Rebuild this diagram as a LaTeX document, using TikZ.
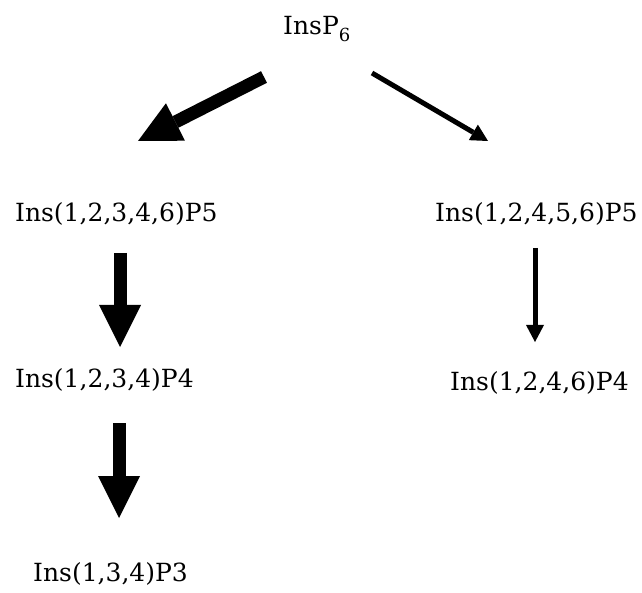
\documentclass[tikz,border=0pt]{standalone}
\usepackage{fontspec}
\setmainfont{DejaVu Serif}
\usetikzlibrary{arrows.meta}
\tikzset{
  lbl/.style={anchor=base west, inner sep=0pt, font=\fontsize{25}{30}\selectfont},
  bigarrow/.style={line width=13pt, -{Triangle[width=42pt,length=42pt,line width=0pt]}},
  thinarrow/.style={line width=5pt, -{Triangle[width=18pt,length=17pt,line width=0pt]}}
}
\begin{document}
\begin{tikzpicture}[x=1pt,y=-1pt]
\useasboundingbox (0,0) rectangle (642,593);
\node[lbl] (top) at (283,35) {InsP\raisebox{-0.25em}{\fontsize{18}{18}\selectfont 6}};
\node[lbl] (a5) at (15,222) {Ins(1,2,3,4,6)P5};
\node[lbl] (b5) at (435,222) {Ins(1,2,4,5,6)P5};
\node[lbl] (a4) at (15,387) {Ins(1,2,3,4)P4};
\node[lbl] (b4) at (450,390) {Ins(1,2,4,6)P4};
\node[lbl] (a3) at (33,581) {Ins(1,3,4)P3};
\coordinate (s1) at (264,77);
\coordinate (e1) at (138,141);
\coordinate (s2) at (372,73);
\coordinate (e2) at (488,141);
\coordinate (s3) at (120,253);
\coordinate (e3) at (120,347);
\coordinate (s4) at (535,248);
\coordinate (e4) at (535,342);
\coordinate (s5) at (119,423);
\coordinate (e5) at (119,518);
\draw[bigarrow] (s1) -- (e1);
\draw[thinarrow] (s2) -- (e2);
\draw[bigarrow] (s3) -- (e3);
\draw[thinarrow] (s4) -- (e4);
\draw[bigarrow] (s5) -- (e5);
\end{tikzpicture}
\end{document}
